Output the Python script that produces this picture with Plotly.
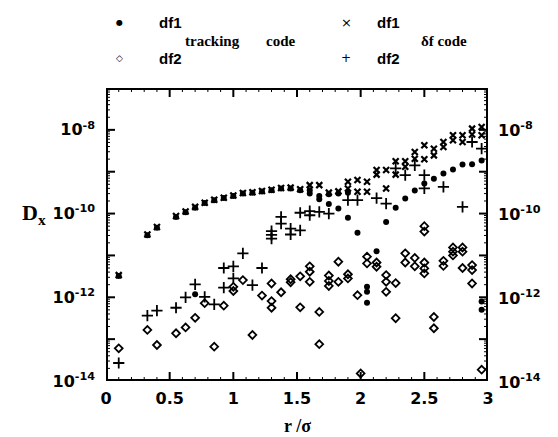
import math
import plotly.graph_objects as go

# ---- data: diffusion coefficient D_x vs r/sigma (log10 values) ----
# df1, tracking code (filled dots)
r_trk1 = [0.1, 0.325, 0.4, 0.55, 0.625, 0.7, 0.775, 0.85, 0.925, 1.0, 1.075, 1.15,
          1.225, 1.3, 1.375, 1.45, 1.525, 1.6, 1.6, 1.675, 1.75, 1.825, 1.9,
          1.675, 1.75, 1.825, 1.9, 1.975, 2.2, 2.275, 2.35, 2.425, 2.5, 2.575,
          2.65, 2.725, 2.8, 2.875, 2.95,
          0.7, 2.05, 2.05, 2.05, 2.125, 2.95, 2.95]
lg_trk1 = [-11.49, -10.52, -10.34, -10.08, -9.97, -9.86, -9.75, -9.68, -9.63, -9.58, -9.52, -9.50,
           -9.47, -9.44, -9.40, -9.40, -9.44, -9.44, -9.52, -9.58, -9.54, -9.52, -9.50,
           -9.66, -9.77, -9.88, -10.10, -10.46, -10.20, -9.86, -9.64, -9.45, -9.28, -9.17,
           -9.04, -8.95, -8.83, -8.82, -8.73,
           -11.93, -11.75, -11.87, -12.13, -10.90, -12.10, -12.30]

# df2, tracking code (open diamonds)
r_trk2 = [0.1, 0.325, 0.4, 0.55, 0.625, 0.7, 0.775, 0.85, 0.925, 1.0, 1.0, 1.075, 1.15,
          1.225, 1.3, 1.3, 1.3, 1.375, 1.45, 1.45, 1.525, 1.525, 1.6, 1.6, 1.6, 1.675,
          1.675, 1.75, 1.75, 1.75, 1.825, 1.825, 1.9, 1.9, 1.975, 2.0, 2.05, 2.05,
          2.125, 2.125, 2.2, 2.2, 2.2, 2.275, 2.275, 2.35, 2.35, 2.425, 2.425, 2.5,
          2.5, 2.5, 2.5, 2.5, 2.575, 2.575, 2.65, 2.65, 2.725, 2.725, 2.725, 2.8,
          2.8, 2.8, 2.875, 2.875, 2.875, 2.95]
lg_trk2 = [-13.22, -12.78, -13.14, -12.86, -12.72, -12.49, -12.14, -13.18, -12.20, -11.75, -11.85, -11.59, -12.90,
           -11.96, -11.67, -12.09, -12.25, -11.88, -11.57, -11.64, -11.50, -12.24, -11.26, -11.39, -11.63, -12.35,
           -13.12, -11.48, -11.61, -11.73, -11.15, -11.63, -11.45, -11.55, -11.95, -13.82, -11.03, -11.19,
           -11.17, -11.27, -11.47, -11.63, -11.87, -11.66, -12.50, -10.95, -11.17, -11.06, -11.26, -10.30,
           -10.43, -11.17, -11.31, -11.43, -12.47, -12.74, -11.13, -11.25, -10.81, -10.91, -11.00, -10.81,
           -10.91, -11.30, -11.23, -11.35, -11.67, -13.73]

# df1, delta-f code (crosses)
r_df1 = [0.1, 0.325, 0.4, 0.55, 0.625, 0.7, 0.775, 0.85, 0.925, 1.0, 1.075, 1.15,
         1.225, 1.3, 1.375, 1.45, 1.525, 1.6, 1.675, 1.75, 1.825, 1.9, 1.9, 1.975,
         1.975, 2.05, 2.05, 2.125, 2.125, 2.2, 2.2, 2.275, 2.275, 2.35, 2.35, 2.425,
         2.425, 2.5, 2.5, 2.575, 2.575, 2.65, 2.65, 2.725, 2.725, 2.8, 2.8, 2.875,
         2.875, 2.95, 2.95]
lg_df1 = [-11.47, -10.50, -10.32, -10.06, -9.95, -9.84, -9.74, -9.67, -9.62, -9.57, -9.51, -9.49,
          -9.46, -9.43, -9.39, -9.38, -9.42, -9.32, -9.32, -9.50, -9.47, -9.24, -9.40, -9.20,
          -9.48, -9.24, -9.48, -8.96, -9.07, -8.96, -9.40, -8.75, -9.07, -8.75, -8.88, -8.53,
          -8.69, -8.37, -8.70, -8.45, -8.61, -8.29, -8.41, -8.13, -8.25, -8.13, -8.29, -7.97,
          -8.11, -7.93, -8.13]

# df2, delta-f code (plus signs)
r_df2 = [0.1, 0.325, 0.4, 0.55, 0.625, 0.7, 0.775, 0.85, 0.925, 0.925, 1.0, 1.0, 1.075,
         1.15, 1.225, 1.3, 1.3, 1.3, 1.375, 1.375, 1.45, 1.45, 1.525, 1.525, 1.6, 1.6,
         1.675, 1.75, 1.9, 1.975, 2.125, 2.2, 2.275, 2.35, 2.425, 2.5, 2.5, 2.65, 2.8,
         2.875, 2.95]
lg_df2 = [-13.57, -12.44, -12.32, -12.25, -12.00, -11.69, -11.99, -12.17, -11.30, -11.77, -11.26, -11.55, -10.95,
          -11.71, -11.30, -10.42, -10.51, -10.60, -10.08, -10.24, -10.36, -10.50, -9.98, -10.40, -9.94, -10.04,
          -9.96, -10.00, -9.68, -9.68, -9.63, -9.76, -8.92, -9.08, -8.85, -9.08, -9.40, -9.36, -9.84,
          -8.29, -8.45]

# axis ticks
y_decades = [-14, -13, -12, -11, -10, -9, -8, -7]
y_labelled = [-14, -12, -10, -8]
x_ticks = [0, 0.5, 1, 1.5, 2, 2.5, 3]
x_minor = [0.1, 0.2, 0.3, 0.4, 0.6, 0.7, 0.8, 0.9, 1.1, 1.2, 1.3, 1.4, 1.6, 1.7, 1.8, 1.9,
           2.1, 2.2, 2.3, 2.4, 2.6, 2.7, 2.8, 2.9]
y_minor_mult = [2, 3, 4, 5, 6, 7, 8, 9]

X_RANGE = [0.0, 3.0]
Y_RANGE = [-14.0, -7.0]          # log10 limits
PLOT_W, PLOT_H = 382.0, 293.0    # plotting area in px (from size and margins)


def pw(vals):
    return [10.0 ** v for v in vals]


fig = go.Figure()

fig.add_trace(go.Scatter(x=r_trk1, y=pw(lg_trk1), mode="markers",
                         marker=dict(symbol="circle", size=6, color="black")))
fig.add_trace(go.Scatter(x=r_trk2, y=pw(lg_trk2), mode="markers",
                         marker=dict(symbol="diamond-open", size=6, color="black",
                                     line=dict(width=1.8, color="black"))))
fig.add_trace(go.Scatter(x=r_df1, y=pw(lg_df1), mode="markers",
                         marker=dict(symbol="x-thin", size=6, color="black",
                                     line=dict(width=2.2, color="black"))))
fig.add_trace(go.Scatter(x=r_df2, y=pw(lg_df2), mode="markers",
                         marker=dict(symbol="cross-thin", size=8, color="black",
                                     line=dict(width=1.8, color="black"))))

# ---- frame and inside tick marks, drawn as line traces on the data axes ----
x_lo, x_hi = X_RANGE
y_lo, y_hi = Y_RANGE
dx_per_px = (x_hi - x_lo) / PLOT_W
dy_per_px = (y_hi - y_lo) / PLOT_H   # decades per pixel


def tick_segments(length_px, ylogs, xvals):
    xs, ys = [], []
    lx = length_px * dx_per_px
    ly = length_px * dy_per_px
    for lv in ylogs:
        for a, b in ((x_lo, x_lo + lx), (x_hi - lx, x_hi)):
            xs += [a, b, None]
            ys += [10.0 ** lv, 10.0 ** lv, None]
    for v in xvals:
        for a, b in ((y_lo, y_lo + ly), (y_hi - ly, y_hi)):
            xs += [v, v, None]
            ys += [10.0 ** a, 10.0 ** b, None]
    return xs, ys


y_minor_logs = [d + math.log10(m) for d in y_decades[:-1] for m in y_minor_mult]
mx, my = tick_segments(9, y_decades, x_ticks)
nx, ny = tick_segments(4, y_minor_logs, x_minor)
fig.add_trace(go.Scatter(x=mx, y=my, mode="lines", line=dict(color="black", width=2),
                         hoverinfo="skip", connectgaps=False))
fig.add_trace(go.Scatter(x=nx, y=ny, mode="lines", line=dict(color="black", width=1),
                         hoverinfo="skip", connectgaps=False))
fig.add_trace(go.Scatter(x=[x_lo, x_hi, x_hi, x_lo, x_lo],
                         y=[10.0 ** y_lo, 10.0 ** y_lo, 10.0 ** y_hi, 10.0 ** y_hi, 10.0 ** y_lo],
                         mode="lines", line=dict(color="black", width=4), hoverinfo="skip"))

tick_font = dict(family="DejaVu Sans", size=16, color="black")

fig.update_layout(
    width=558, height=437,
    margin=dict(l=106, r=70, t=88, b=56),
    paper_bgcolor="white", plot_bgcolor="white",
    showlegend=False,
    xaxis=dict(range=X_RANGE, tickmode="array", tickvals=x_ticks,
               ticktext=[("<b>%g</b>" % v) for v in x_ticks], ticks="",
               showgrid=False, zeroline=False, showline=False, tickfont=tick_font,
               ticklabelstandoff=6),
    yaxis=dict(type="log", range=Y_RANGE, tickmode="array",
               tickvals=[10.0 ** d for d in y_labelled],
               ticktext=["<b>10<sup>%d</sup></b>" % d for d in y_labelled], ticks="",
               showgrid=False, zeroline=False, showline=False, tickfont=tick_font,
               ticklabelstandoff=10),
)

# tick labels of the right-hand axis, placed at the labelled decades
for d in y_labelled:
    fig.add_annotation(xref="paper", yref="y", x=1.0, y=d, xanchor="left", yanchor="middle",
                       xshift=8, showarrow=False, text="<b>10<sup>%d</sup></b>" % d,
                       font=tick_font)

ann_font = dict(family="Liberation Sans", size=15, color="black")
serif_font = dict(family="Liberation Serif", size=15, color="black")
annots = [
    dict(x=119, y=22, text="\u25cf", font=dict(family="DejaVu Sans", size=8, color="black")),
    dict(x=170, y=22, text="<b>df1</b>", font=ann_font),
    dict(x=119, y=58, text="\u25c7", font=dict(family="DejaVu Sans", size=9, color="black")),
    dict(x=170, y=58, text="<b>df2</b>", font=ann_font),
    dict(x=212, y=41, text="<b>tracking</b>", font=serif_font),
    dict(x=281, y=41, text="<b>code</b>", font=serif_font),
    dict(x=346, y=22, text="\u00d7", font=dict(family="DejaVu Sans", size=13, color="black")),
    dict(x=388, y=22, text="<b>df1</b>", font=ann_font),
    dict(x=346, y=58, text="+", font=dict(family="DejaVu Sans", size=12, color="black")),
    dict(x=388, y=58, text="<b>df2</b>", font=ann_font),
    dict(x=444, y=41, text="<b>\u03b4f code</b>", font=serif_font),
    dict(x=34, y=214, text="<b>D<sub>x</sub></b>", font=dict(family="Liberation Serif", size=22, color="black")),
    dict(x=297, y=426, text="<b>r /\u03c3</b>", font=dict(family="Liberation Serif", size=18, color="black")),
]
for a in annots:
    fig.add_annotation(xref="paper", yref="paper",
                       x=(a["x"] - 106) / PLOT_W, y=(381 - a["y"]) / PLOT_H,
                       text=a["text"], font=a["font"], showarrow=False,
                       xanchor="center", yanchor="middle")

fig.write_html("out.html")
